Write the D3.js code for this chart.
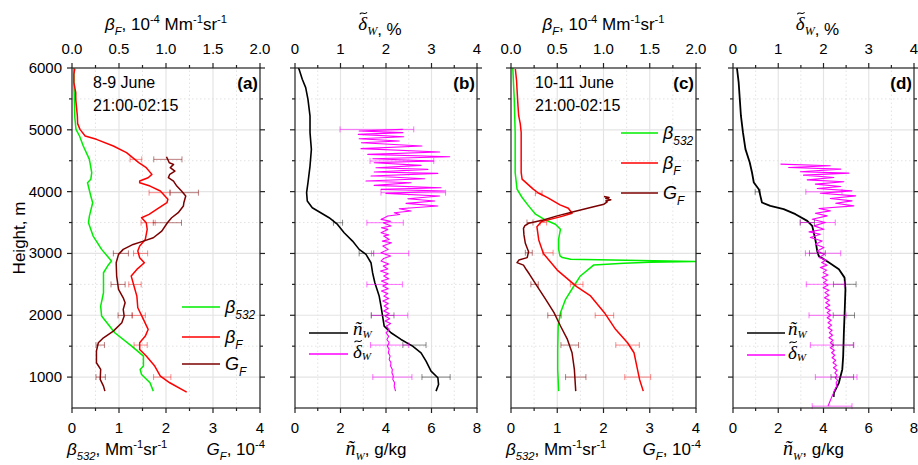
<!DOCTYPE html>
<html><head><meta charset="utf-8">
<script src="https://cdn.jsdelivr.net/npm/d3@7"></script>
<style>body{margin:0;background:#fff}svg{display:block}</style>
</head><body><svg id="chart" width="918" height="465"></svg>
<script>
// ---------- DATA: [height m, value] ----------
const heightTicks = [1000, 2000, 3000, 4000, 5000, 6000];
const panelLabels = ["(a)", "(b)", "(c)", "(d)"];
const dateLines = [["8-9 June", "21:00-02:15"], ["10-11 June", "21:00-02:15"]];

// Panel (a), 8-9 June
const a_beta532 = [[6000,0.04],[5800,0.04],[5500,0.05],[5200,0.06],[5007,0.085],[4900,0.16],[4738,0.24],[4522,0.37],[4306,0.42],[4200,0.40],[4144,0.33],[3929,0.40],[3821,0.44],[3605,0.37],[3497,0.35],[3281,0.45],[3066,0.63],[2877,0.84],[2800,0.76],[2688,0.67],[2364,0.67],[2149,0.61],[1987,0.63],[1717,0.91],[1501,1.27],[1340,1.52],[1178,1.52],[1124,1.45],[1043,1.48],[908,1.66],[773,1.73]];
const a_betaF = [[5990,0.03],[5900,0.02],[5763,0.02],[5600,0.04],[5493,0.04],[5223,0.057],[5100,0.06],[5007,0.085],[4900,0.14],[4846,0.26],[4738,0.44],[4630,0.58],[4468,0.71],[4387,0.79],[4279,0.85],[4225,0.81],[4171,0.72],[4144,0.72],[4090,0.83],[4010,0.94],[3875,1.02],[3821,1.01],[3713,0.90],[3632,0.82],[3578,0.74],[3497,0.79],[3389,0.80],[3227,0.78],[3120,0.72],[3039,0.70],[2931,0.72],[2850,0.77],[2742,0.69],[2634,0.63],[2418,0.67],[2310,0.69],[2122,0.70],[1933,0.76],[1771,0.81],[1663,0.78],[1555,0.72],[1447,0.72],[1340,0.79],[1178,0.88],[1016,0.94],[908,1.04],[757,1.22]];
const a_GF = [[4565,2.01],[4468,2.07],[4441,2.16],[4387,2.09],[4333,2.19],[4280,2.08],[4225,2.05],[4171,2.16],[4090,2.23],[4010,2.33],[3929,2.42],[3821,2.38],[3767,2.37],[3659,2.26],[3578,2.12],[3497,2.03],[3362,1.91],[3254,1.73],[3200,1.52],[3146,1.30],[3066,1.09],[2985,0.99],[2850,0.94],[2634,0.95],[2418,0.99],[2283,1.09],[2203,1.13],[2095,1.09],[1987,1.11],[1879,1.06],[1744,0.88],[1636,0.67],[1555,0.56],[1420,0.52],[1232,0.52],[1124,0.61],[962,0.60],[854,0.67],[773,0.70]];
// error bars: [height, centre, half-width]
const a_betaF_err = [[4522,0.68,0.062],[3983,0.93,0.11],[3497,0.81,0.075],[3001,0.73,0.075],[2499,0.67,0.066],[1998,0.71,0.07],[1518,0.73,0.07],[1000,0.96,0.092]];
const a_GF_err = [[4522,2.04,0.30],[3983,2.39,0.30],[3497,2.03,0.30],[3001,1.04,0.16],[2499,0.98,0.15],[1998,1.13,0.15],[1518,0.60,0.09],[1000,0.61,0.10]];

// Panel (b)
const b_nW = [[6000,0.15],[5978,0.18],[5817,0.32],[5682,0.47],[5493,0.57],[5223,0.66],[4954,0.66],[4684,0.72],[4414,0.66],[4144,0.57],[3983,0.51],[3848,0.54],[3740,0.76],[3659,1.13],[3578,1.50],[3470,1.87],[3335,2.16],[3200,2.53],[3066,2.82],[2985,3.12],[2850,3.34],[2688,3.41],[2526,3.51],[2310,3.70],[2149,3.78],[1987,3.85],[1825,3.92],[1717,4.22],[1609,4.66],[1501,5.17],[1393,5.54],[1259,5.76],[1097,5.98],[989,6.28],[881,6.31],[773,6.20]];
const b_deltaW = [[5007,2.37],[4981,1.41],[4954,2.37],[4927,1.39],[4889,2.39],[4856,1.41],[4819,2.29],[4792,1.46],[4738,2.79],[4695,1.45],[4641,3.18],[4603,1.60],[4565,3.40],[4533,1.71],[4495,3.05],[4468,1.74],[4425,2.77],[4387,1.78],[4360,2.92],[4317,1.74],[4296,3.14],[4252,1.67],[4209,2.85],[4171,1.56],[4144,2.55],[4101,1.74],[4064,3.21],[4037,1.89],[4010,3.29],[3972,2.00],[3929,3.18],[3886,2.48],[3848,3.07],[3810,2.44],[3767,3.14],[3724,2.29],[3686,2.55],[3659,2.18],[3630,2.30],[3605,2.04],[3551,1.89],[3520,2.10],[3497,1.94],[3443,2.11],[3415,1.90],[3389,2.04],[3335,1.89],[3300,2.06],[3281,1.95],[3227,2.07],[3200,1.92],[3174,2.12],[3120,1.93],[3066,2.05],[3012,1.89],[2958,2.10],[2920,1.95],[2877,1.89],[2830,2.06],[2796,1.94],[2750,2.04],[2715,1.88],[2670,2.05],[2634,1.95],[2590,2.06],[2553,1.90],[2510,2.04],[2472,1.93],[2430,2.05],[2391,1.90],[2350,2.04],[2310,1.95],[2270,2.06],[2230,1.93],[2190,2.05],[2149,1.96],[2110,2.05],[2068,1.95],[2030,2.07],[1987,1.98],[1945,2.08],[1906,1.98],[1865,2.10],[1825,2.01],[1770,2.07],[1717,2.00],[1660,2.06],[1609,2.02],[1555,2.07],[1501,2.03],[1447,2.07],[1393,2.05],[1340,2.09],[1286,2.07],[1232,2.11],[1178,2.10],[1124,2.14],[1070,2.13],[1016,2.16],[962,2.15],[908,2.19],[854,2.18],[773,2.21]];
const b_nW_err = [[3497,1.89,0.2],[3001,3.14,0.32],[1998,3.85,0.5],[1518,5.25,0.51],[1000,6.2,0.62]];
const b_deltaW_err = [[5007,1.80,0.81],[4495,2.35,0.70],[3983,2.60,0.71],[3497,1.98,0.40],[3001,2.09,0.41],[2499,1.97,0.39],[1998,2.08,0.40],[1518,2.08,0.42],[1000,2.14,0.43]];

// Panel (c), 10-11 June
const c_beta532 = [[6000,0.04],[5984,0.04],[5498,0.07],[4958,0.09],[4310,0.09],[4040,0.13],[3905,0.24],[3770,0.38],[3635,0.53],[3554,0.71],[3473,0.96],[3392,1.07],[3230,1.03],[3068,1.03],[2960,1.06],[2933,1.11],[2906,1.29],[2870,3.98],[2856,3.0],[2841,2.44],[2815,1.79],[2771,1.72],[2636,1.50],[2474,1.36],[2258,1.18],[2042,1.07],[1826,1.02],[1448,1.01],[1124,1.01],[773,1.03]];
const c_betaF = [[5984,0.047],[5800,0.06],[5660,0.065],[5400,0.075],[5228,0.083],[5100,0.10],[4958,0.11],[4600,0.11],[4310,0.11],[4202,0.12],[4121,0.18],[4040,0.24],[3974,0.30],[3900,0.40],[3785,0.53],[3731,0.62],[3650,0.66],[3600,0.55],[3515,0.33],[3433,0.28],[3218,0.30],[2999,0.35],[2731,0.50],[2463,0.71],[2312,0.86],[2042,1.01],[1772,1.13],[1556,1.26],[1394,1.33],[1178,1.36],[962,1.39],[773,1.43]];
const c_GF = [[3921,2.01],[3905,2.12],[3889,2.05],[3867,2.16],[3850,2.05],[3835,2.08],[3797,2.01],[3743,1.72],[3676,1.35],[3608,1.00],[3541,0.70],[3488,0.38],[3450,0.30],[3407,0.27],[3300,0.28],[3164,0.31],[3029,0.38],[2933,0.35],[2893,0.17],[2852,0.13],[2812,0.27],[2740,0.33],[2663,0.40],[2474,0.56],[2258,0.75],[2042,0.93],[1826,1.07],[1610,1.22],[1394,1.32],[1124,1.37],[773,1.40]];
const c_betaF_err = [[3974,0.30,0.036],[3500,0.35,0.035],[3011,0.40,0.055],[2500,0.71,0.068],[1998,1.01,0.10],[1518,1.26,0.127],[1000,1.37,0.14]];
const c_GF_err = [[3500,0.41,0.065],[3011,0.385,0.075],[2500,0.51,0.08],[1998,0.94,0.145],[1518,1.27,0.19],[1000,1.40,0.22]];

// Panel (d)
const d_nW = [[6000,0.17],[5984,0.18],[5768,0.25],[5498,0.30],[5228,0.35],[4958,0.44],[4688,0.55],[4472,0.74],[4310,0.84],[4148,0.92],[4040,1.14],[3932,1.21],[3824,1.28],[3770,1.65],[3716,2.24],[3635,2.76],[3527,3.28],[3446,3.50],[3338,3.57],[3203,3.65],[3041,3.72],[2960,3.79],[2852,4.24],[2744,4.68],[2609,4.93],[2420,4.97],[2096,4.94],[1718,4.90],[1340,4.87],[1124,4.83],[908,4.68],[746,4.46],[680,4.45]];
const d_deltaW = [[4445,1.05],[4418,2.15],[4391,1.23],[4364,2.38],[4321,1.49],[4299,2.56],[4267,1.56],[4229,2.23],[4191,1.64],[4159,2.45],[4121,1.82],[4083,2.38],[4051,1.86],[4013,2.63],[3975,1.93],[3932,2.71],[3889,2.15],[3851,2.63],[3813,2.27],[3770,2.67],[3727,1.90],[3689,2.15],[3651,1.82],[3608,2.08],[3554,1.75],[3500,2.04],[3446,1.79],[3392,2.01],[3349,1.68],[3311,1.93],[3257,1.71],[3203,1.97],[3149,1.82],[3095,2.01],[3041,1.86],[2987,2.02],[2933,1.90],[2892,2.06],[2852,1.96],[2811,2.08],[2771,1.93],[2730,2.07],[2690,1.99],[2650,2.10],[2609,1.97],[2568,2.08],[2528,2.00],[2488,2.10],[2447,1.99],[2406,2.12],[2366,2.03],[2325,2.12],[2285,2.02],[2244,2.13],[2204,2.05],[2163,2.14],[2123,2.04],[2082,2.15],[2042,2.08],[2000,2.16],[1961,2.08],[1920,2.17],[1880,2.10],[1840,2.18],[1799,2.10],[1758,2.19],[1718,2.13],[1677,2.20],[1637,2.12],[1596,2.21],[1556,2.15],[1515,2.22],[1475,2.15],[1434,2.24],[1394,2.18],[1353,2.25],[1313,2.19],[1272,2.27],[1232,2.21],[1190,2.29],[1151,2.22],[1110,2.30],[1070,2.25],[1030,2.30],[989,2.26],[950,2.31],[908,2.28],[850,2.29],[800,2.25],[740,2.22],[692,2.19],[640,2.16],[584,2.13],[530,2.10]];
const d_deltaW_err = [[3997,2.01,0.40],[3500,1.87,0.39],[3003,1.99,0.39],[2501,2.04,0.42],[1999,2.09,0.41],[1518,2.19,0.48],[1000,2.28,0.46],[530,2.19,0.44]];
const d_nW_err = [[3997,1.09,0.11],[3500,3.29,0.31],[3003,3.73,0.35],[2501,4.94,0.5],[1999,4.90,0.47],[1518,4.87,0.45],[1000,4.83,0.5]];

// ---------- DRAWING ----------
const SANS = '"Liberation Sans", Arial, Helvetica, sans-serif';
const SERIF = '"Liberation Serif", "Times New Roman", serif';
const GREEN = "#00ee00", RED = "#ff0000", DRED = "#7b0000", MAG = "#ff00ff", BLK = "#000000";
const svg = d3.select("#chart");
const y = d3.scaleLinear().domain([500, 6000]).range([408, 68]);

function rich(sel, x, yy, parts, anchor, size, fam) {
  const t = sel.append("text").attr("x", x).attr("y", yy)
    .attr("text-anchor", anchor || "start").attr("font-size", size)
    .attr("font-family", fam || SANS).attr("fill", "#000");
  let cur = 0;
  parts.forEach(p => {
    const target = p.sub ? (p.sh !== undefined ? p.sh : size * 0.32) : p.sup ? -size * 0.42 : p.raise ? -p.raise : 0;
    const ts = t.append("tspan").text(p.t).attr("dy", target - cur);
    cur = target;
    if (p.sub || p.sup) ts.attr("font-size", size * 0.66);
    if (p.i) ts.attr("font-style", "italic");
    if (p.f) ts.attr("font-family", p.f);
    if (p.s) ts.attr("font-size", p.s);
  });
  return t;
}
// tilde accent drawn above first character of a text
function tilde(t, baseY, size) {
  const e = t.node().getExtentOfChar(0);
  const cx = e.x + e.width * 0.58, ty = baseY - 0.88 * size;
  const h = size * 0.19, a = size * 0.05;
  svg.append("path")
    .attr("d", `M${cx - h},${ty + a} C${cx - h * 0.4},${ty - a * 2.6} ${cx + h * 0.4},${ty + a * 2.6} ${cx + h},${ty - a}`)
    .attr("fill", "none").attr("stroke", "#000").attr("stroke-width", 1.1);
}

const range = (a, b, s) => d3.range(a, b + s / 2, s);

const panelsCfg = [
  { x0: 72, x1: 260, bot: [0, 4], botMaj: 1, botMin: 0.5, botFmt: d3.format("d"), top: [0, 2], topMaj: 0.5, topMin: 0.25, topFmt: d3.format(".1f") },
  { x0: 295, x1: 477, bot: [0, 8], botMaj: 2, botMin: 1, botFmt: d3.format("d"), top: [0, 4], topMaj: 1, topMin: 0.5, topFmt: d3.format("d") },
  { x0: 511, x1: 696, bot: [0, 4], botMaj: 1, botMin: 0.5, botFmt: d3.format("d"), top: [0, 2], topMaj: 0.5, topMin: 0.25, topFmt: d3.format(".1f") },
  { x0: 733, x1: 914, bot: [0, 8], botMaj: 2, botMin: 1, botFmt: d3.format("d"), top: [0, 4], topMaj: 1, topMin: 0.5, topFmt: d3.format("d") }
];

panelsCfg.forEach((p, i) => {
  p.xb = d3.scaleLinear().domain(p.bot).range([p.x0, p.x1]);
  p.xt = d3.scaleLinear().domain(p.top).range([p.x0, p.x1]);
  const g = svg.append("g");
  p.g = g;
  const grid = g.append("g");
  range(p.bot[0], p.bot[1], p.botMin).forEach(v => {
    if (v <= p.bot[0] || v >= p.bot[1]) return;
    const major = Math.abs(v / p.botMaj - Math.round(v / p.botMaj)) < 1e-6;
    grid.append("line").attr("x1", p.xb(v)).attr("x2", p.xb(v)).attr("y1", y(500)).attr("y2", y(6000))
      .attr("stroke", major ? "#e4e4e4" : "#dcdcdc").attr("stroke-width", major ? 1.2 : 0.8)
      .attr("stroke-dasharray", major ? null : "1.5,2.5");
  });
  range(1000, 5500, 500).forEach(h => {
    const major = h % 1000 === 0;
    grid.append("line").attr("x1", p.x0).attr("x2", p.x1).attr("y1", y(h)).attr("y2", y(h))
      .attr("stroke", major ? "#e4e4e4" : "#dcdcdc").attr("stroke-width", major ? 1.2 : 0.8)
      .attr("stroke-dasharray", major ? null : "1.5,2.5");
  });
});

function curve(p, data, scale, color, w) {
  const xs = scale === "top" ? p.xt : p.xb;
  p.g.append("path").datum(data)
    .attr("d", d3.line().x(d => xs(d[1])).y(d => y(d[0])))
    .attr("fill", "none").attr("stroke", color).attr("stroke-width", w || 1.5)
    .attr("stroke-linejoin", "round");
}
function errs(p, data, scale, color) {
  const xs = scale === "top" ? p.xt : p.xb;
  const eg = p.g.append("g").attr("stroke", color).attr("stroke-width", 1);
  data.forEach(d => {
    const yy = y(d[0]), xa = xs(d[1] - d[2]), xb = xs(d[1] + d[2]);
    eg.append("line").attr("x1", xa).attr("x2", xb).attr("y1", yy).attr("y2", yy);
    eg.append("line").attr("x1", xa).attr("x2", xa).attr("y1", yy - 3).attr("y2", yy + 3);
    eg.append("line").attr("x1", xb).attr("x2", xb).attr("y1", yy - 3).attr("y2", yy + 3);
  });
}

const [pa, pb, pc, pd] = panelsCfg;
const eRED = "rgba(255,0,0,0.45)", eDRED = "rgba(123,0,0,0.5)", eMAG = "rgba(255,0,255,0.55)", eBLK = "rgba(0,0,0,0.45)";

curve(pa, a_beta532, "bot", GREEN);
curve(pa, a_betaF, "top", RED);
curve(pa, a_GF, "bot", DRED);
errs(pa, a_betaF_err, "top", eRED);
errs(pa, a_GF_err, "bot", eDRED);

curve(pb, b_nW, "bot", BLK, 1.6);
curve(pb, b_deltaW, "top", MAG, 1.1);
errs(pb, b_nW_err, "bot", eBLK);
errs(pb, b_deltaW_err, "top", eMAG);

curve(pc, c_beta532, "bot", GREEN);
curve(pc, c_betaF, "top", RED);
curve(pc, c_GF, "bot", DRED);
errs(pc, c_betaF_err, "top", eRED);
errs(pc, c_GF_err, "bot", eDRED);

curve(pd, d_nW, "bot", BLK, 1.8);
curve(pd, d_deltaW, "top", MAG, 1.1);
errs(pd, d_nW_err, "bot", eBLK);
errs(pd, d_deltaW_err, "top", eMAG);

// frames, ticks, labels
const AX = "#222";
panelsCfg.forEach((p, i) => {
  const g = svg.append("g").attr("stroke", AX).attr("stroke-width", 1.2);
  g.append("rect").attr("x", p.x0).attr("y", y(6000)).attr("width", p.x1 - p.x0).attr("height", y(500) - y(6000)).attr("fill", "none");
  const yb = y(500), yt = y(6000);
  range(p.bot[0], p.bot[1], p.botMin).forEach(v => {
    const major = Math.abs(v / p.botMaj - Math.round(v / p.botMaj)) < 1e-6;
    g.append("line").attr("x1", p.xb(v)).attr("x2", p.xb(v)).attr("y1", yb).attr("y2", yb + (major ? 5 : 3));
  });
  range(p.top[0], p.top[1], p.topMin).forEach(v => {
    const major = Math.abs(v / p.topMaj - Math.round(v / p.topMaj)) < 1e-6;
    g.append("line").attr("x1", p.xt(v)).attr("x2", p.xt(v)).attr("y1", yt).attr("y2", yt - (major ? 5 : 3));
  });
  range(1000, 6000, 500).forEach(h => {
    const len = h % 1000 === 0 ? 5 : 3;
    g.append("line").attr("x1", p.x0).attr("x2", p.x0 - len).attr("y1", y(h)).attr("y2", y(h));
    g.append("line").attr("x1", p.x1).attr("x2", p.x1 + len).attr("y1", y(h)).attr("y2", y(h));
  });
  const lab = svg.append("g").attr("font-family", SANS).attr("font-size", 15).attr("fill", "#000").attr("text-anchor", "middle");
  range(p.bot[0], p.bot[1], p.botMaj).forEach(v => lab.append("text").attr("x", p.xb(v)).attr("y", 433).text(p.botFmt(v)));
  range(p.top[0], p.top[1], p.topMaj).forEach(v => lab.append("text").attr("x", p.xt(v)).attr("y", 54).text(p.topFmt(v)));
  svg.append("text").attr("x", p.x1 - 2).attr("y", 89).attr("text-anchor", "end").attr("font-family", SANS)
    .attr("font-size", 17).attr("font-weight", "bold").text(panelLabels[i]);
});

const hl = svg.append("g").attr("font-family", SANS).attr("font-size", 15).attr("text-anchor", "end");
heightTicks.forEach(h => hl.append("text").attr("x", 62).attr("y", y(h) + 5).text(h));
svg.append("text").attr("transform", "translate(25,238) rotate(-90)").attr("text-anchor", "middle")
  .attr("font-family", SANS).attr("font-size", 17).text("Height, m");

[[pa, dateLines[0], 21], [pc, dateLines[1], 24]].forEach(([p, lines, dx]) => {
  lines.forEach((t, k) => svg.append("text").attr("x", p.x0 + dx).attr("y", 88 + k * 23)
    .attr("font-family", SANS).attr("font-size", 16).text(t));
});

// axis titles
const FS = 17;
const betaFTitle = [{ t: "β", i: 1 }, { t: "F", i: 1, sub: 1 }, { t: ", 10" }, { t: "-4", sup: 1 }, { t: " Mm" }, { t: "-1", sup: 1 }, { t: "sr" }, { t: "-1", sup: 1 }];
const deltaTitle = [{ t: "δ", i: 1, f: SERIF, s: 19, raise: 5 }, { t: "W", i: 1, f: SERIF, s: 12 }, { t: ", %" }];
const b532Title = [{ t: "β", i: 1 }, { t: "532", i: 1, sub: 1 }, { t: ", Mm" }, { t: "-1", sup: 1 }, { t: "sr" }, { t: "-1", sup: 1 }];
const GFTitle = [{ t: "G", i: 1 }, { t: "F", i: 1, sub: 1 }, { t: ", 10" }, { t: "-4", sup: 1 }];
const nTitle = [{ t: "ñ", i: 1, f: SERIF, s: 20 }, { t: "W", i: 1, sub: 1, f: SERIF, s: 11 }, { t: ", g/kg" }];

[pa, pc].forEach(p => {
  rich(svg, (p.x0 + p.x1) / 2, 30, betaFTitle, "middle", FS);
  rich(svg, p.x0 - 5, 455, b532Title, "start", FS);
  rich(svg, p.x1 + 5, 455, GFTitle, "end", FS);
});
[pb, pd].forEach(p => {
  const t = rich(svg, (p.x0 + p.x1) / 2 - 6, 35, deltaTitle, "middle", FS);
  tilde(t, 30, 19);
  rich(svg, (p.x0 + p.x1) / 2 - 10, 455, nTitle, "middle", FS);
});

// legends
function legend(p, items, lx0, lx1, tx) {
  items.forEach(it => {
    svg.append("line").attr("x1", p.x0 + lx0).attr("x2", p.x0 + lx1).attr("y1", it.y).attr("y2", it.y)
      .attr("stroke", it.c).attr("stroke-width", 1.6);
    const by = it.y + (it.by !== undefined ? it.by : 6), sz = it.size || 18;
    const t = rich(svg, p.x0 + tx, by, it.parts, "start", sz, it.fam);
    if (it.tilde) tilde(t, by, sz);
  });
}
const legB532 = [{ t: "β", i: 1 }, { t: "532", i: 1, sub: 1 }];
const legBF = [{ t: "β", i: 1 }, { t: "F", i: 1, sub: 1 }];
const legGF = [{ t: "G", i: 1 }, { t: "F", i: 1, sub: 1 }];
const legN = [{ t: "ñ", i: 1 }, { t: "W", i: 1, sub: 1, s: 11, sh: 3 }];
const legD = [{ t: "δ", i: 1 }, { t: "W", i: 1, sub: 1, s: 11, sh: 2 }];
legend(pa, [{ y: 307, c: GREEN, parts: legB532 }, { y: 337, c: RED, parts: legBF }, { y: 364, c: DRED, parts: legGF }], 110, 148, 153);
legend(pc, [{ y: 133, c: GREEN, parts: legB532 }, { y: 163, c: RED, parts: legBF }, { y: 193, c: DRED, parts: legGF }], 110, 147, 152);
legend(pb, [{ y: 333, c: BLK, parts: legN, fam: SERIF, size: 19, by: 2 }, { y: 354, c: MAG, parts: legD, fam: SERIF, size: 19, by: 4, tilde: 1 }], 14, 53, 58);
legend(pd, [{ y: 333, c: BLK, parts: legN, fam: SERIF, size: 19, by: 2 }, { y: 355, c: MAG, parts: legD, fam: SERIF, size: 19, by: 4, tilde: 1 }], 14, 52, 55);
</script>
</body></html>
